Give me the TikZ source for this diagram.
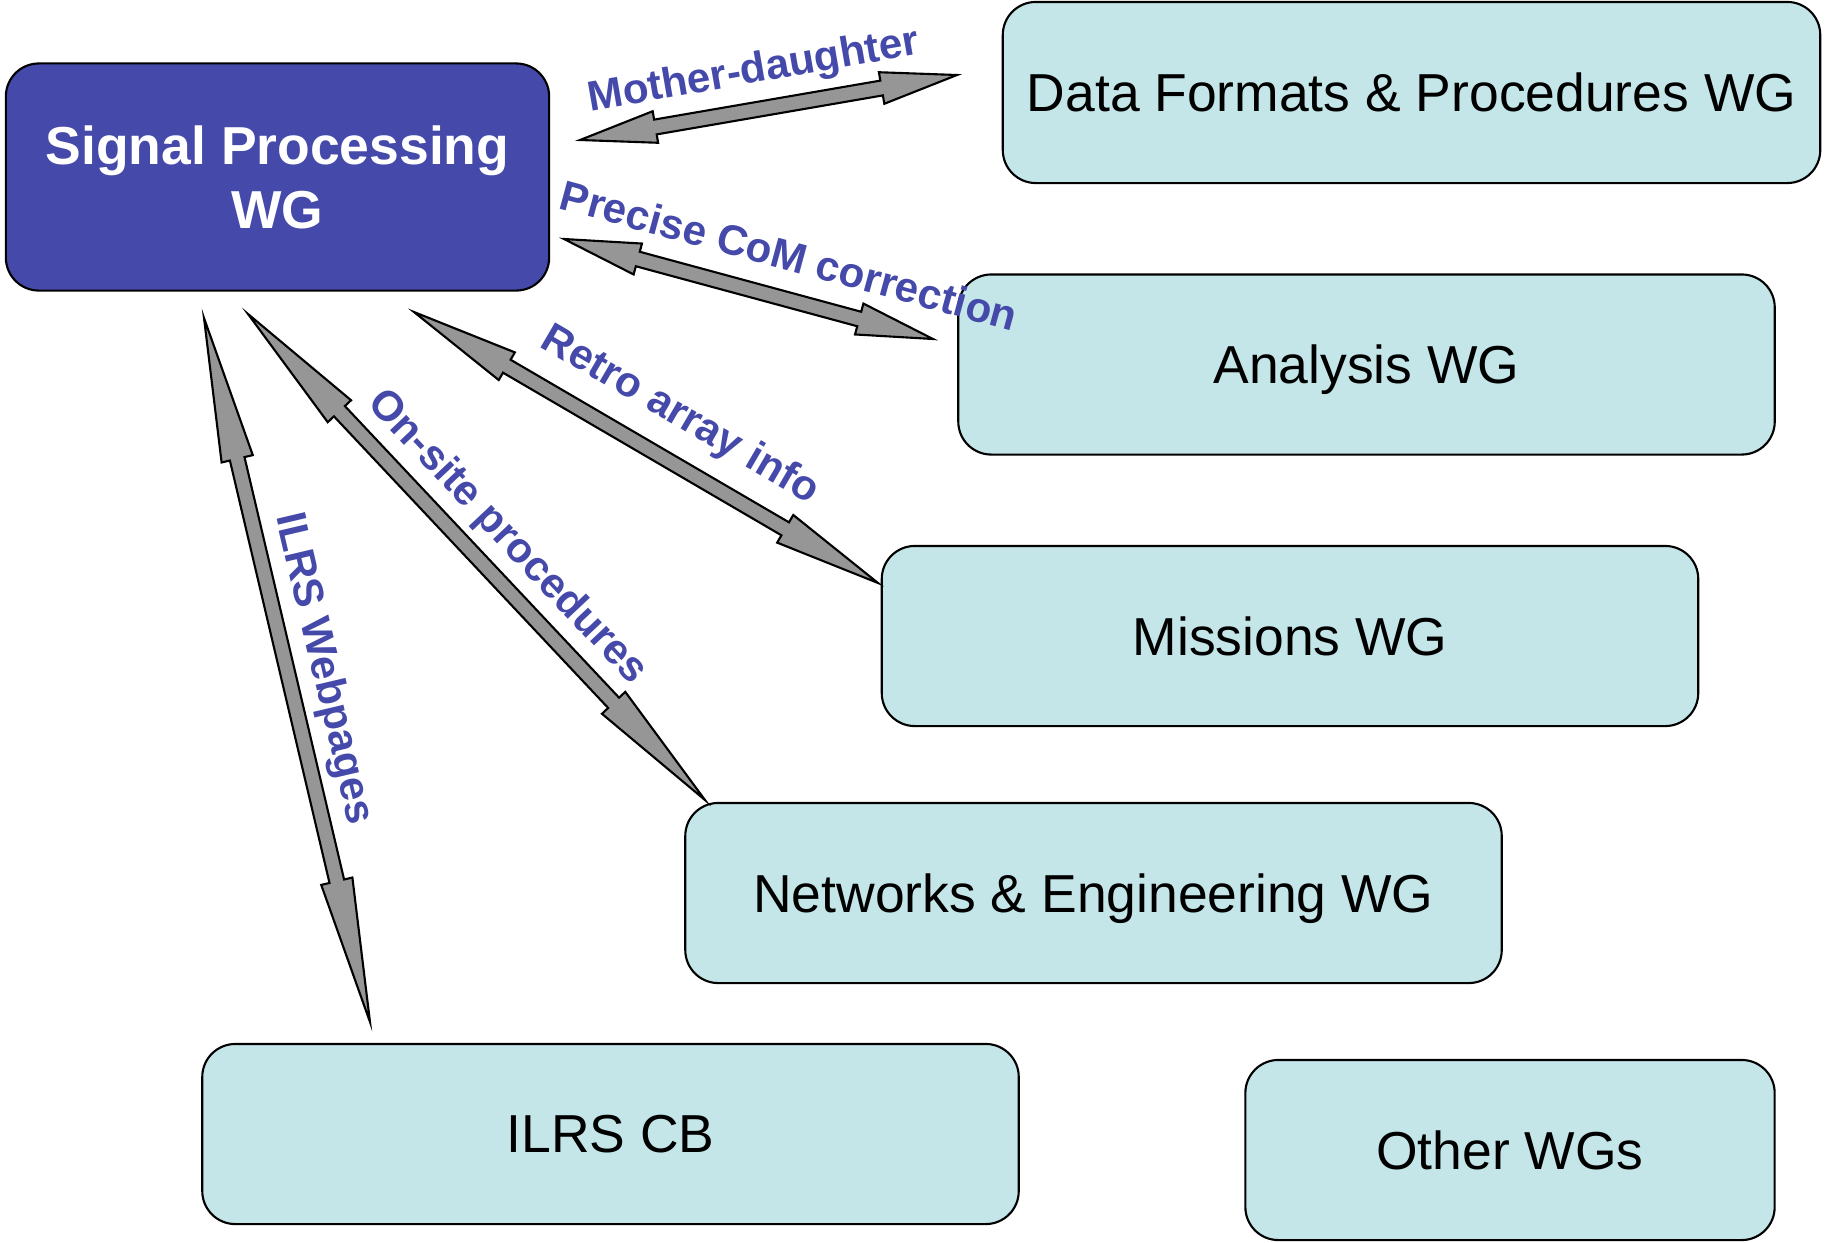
\documentclass[tikz,border=0pt]{standalone}
\usepackage{fontspec}
\setmainfont{Liberation Sans}
\usetikzlibrary{calc,positioning}
\definecolor{spblue}{RGB}{68,73,170}
\definecolor{wgcyan}{RGB}{196,230,232}
\definecolor{arrowgray}{RGB}{150,150,150}
% two-headed block arrow between two named coordinates
\newcommand{\twoway}[2]{%
  \draw[dbl] (#1)
    -- ($(#1)!0.2!(#2)!0.16cm!90:(#2)$) -- ($(#1)!0.2!(#2)!0.075cm!90:(#2)$)
    -- ($(#2)!0.2!(#1)!0.075cm!-90:(#1)$) -- ($(#2)!0.2!(#1)!0.16cm!-90:(#1)$)
    -- (#2)
    -- ($(#2)!0.2!(#1)!0.16cm!90:(#1)$) -- ($(#2)!0.2!(#1)!0.075cm!90:(#1)$)
    -- ($(#1)!0.2!(#2)!0.075cm!-90:(#2)$) -- ($(#1)!0.2!(#2)!0.16cm!-90:(#2)$)
    -- cycle;}

\begin{document}
\begin{tikzpicture}[x=0.01cm,y=-0.01cm,
    wg/.style={draw, line width=0.6pt, fill=wgcyan, rounded corners=0.33cm, text depth=0pt,
      minimum width=8.16cm, minimum height=1.8cm, font=\fontsize{15.2}{18}\selectfont},
    lead/.style={wg, fill=spblue, text=white, align=center,
      font=\bfseries\fontsize{15.2}{18}\selectfont, minimum width=5.43cm, minimum height=2.27cm},
    tag/.style={text=spblue, font=\bfseries\fontsize{12}{14}\selectfont, sloped, inner sep=0pt},
    dbl/.style={draw, line width=0.6pt, fill=arrowgray, line join=miter}]
    \useasboundingbox (0,0) rectangle (1825,1242);
    %groups
    \node[lead] (sp) at (277.5,177) {Signal Processing\\WG};
    \node[wg, minimum width=8.17cm, minimum height=1.81cm] (df) at (1411.5,92.5) {Data Formats \& Procedures WG};
    \node[wg] (an) at (1366.5,364.5) {Analysis WG};
    \node[wg] (mi) at (1290,636) {Missions WG};
    \node[wg] (ne) at (1093.5,893) {Networks \& Engineering WG};
    \node[wg] (cb) at (610.5,1134) {ILRS CB};
    \node[wg, minimum width=5.29cm] (ot) at (1510,1150) {Other WGs};
    %arrow ends
    \coordinate (md1) at (580,140);  \coordinate (md2) at (957,75);
    \coordinate (pc1) at (564,239);  \coordinate (pc2) at (933,339);
    \coordinate (ra1) at (414,312);  \coordinate (ra2) at (878,583);
    \coordinate (os1) at (248,314);  \coordinate (os2) at (705,800);
    \coordinate (wp1) at (204,318);  \coordinate (wp2) at (370,1022);
    %arrows
    \twoway{md1}{md2}
    \twoway{pc1}{pc2}
    \twoway{ra1}{ra2}
    \twoway{os1}{os2}
    \twoway{wp1}{wp2}
    %labels
    \path (md1) -- node[tag, pos=0.478, above=0.17cm] (mdlab) {Mother-daughter} (md2);
    \path (pc1) -- node[tag, pos=0.58, above=0.27cm] (pclab) {Precise CoM correction} (pc2);
    \path (ra1) -- node[tag, pos=0.525, above=0.24cm] (ralab) {Retro array info} (ra2);
    \path (os1) -- node[tag, pos=0.51, above=0.15cm] (oslab) {On-site procedures} (os2);
    \path (wp1) -- node[tag, pos=0.51, above=0.15cm] (wplab) {ILRS Webpages} (wp2);
\end{tikzpicture}
\end{document}
